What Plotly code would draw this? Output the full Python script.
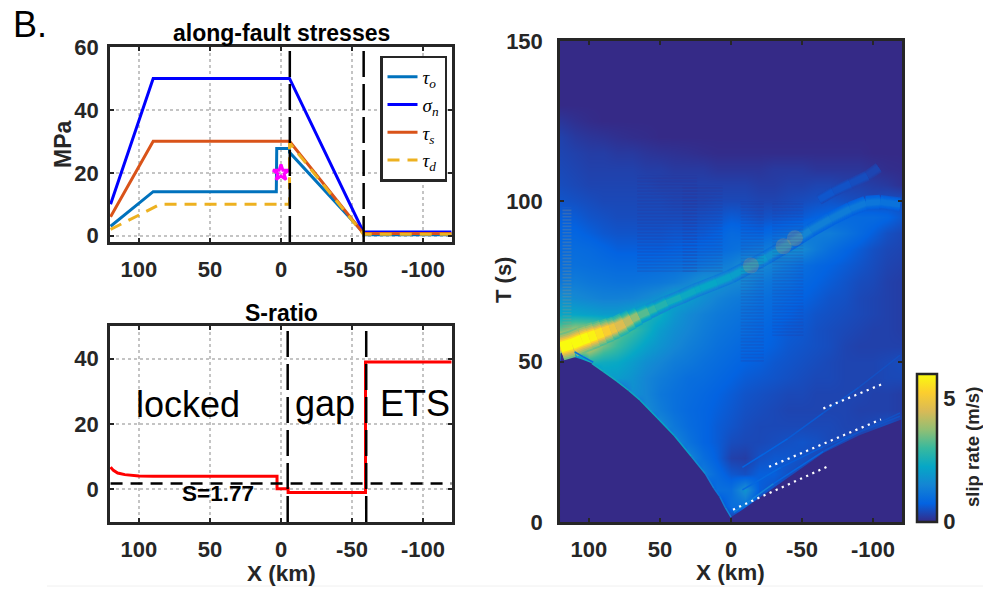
import plotly.graph_objects as go
from plotly.colors import sample_colorscale

W, H = 983, 589
FONT = "Liberation Sans"
INK = "#262626"
PARULA = [[0, "#352a87"], [.125, "#0363e1"], [.25, "#1485d4"], [.375, "#06a7c6"], [.5, "#38b99e"],
          [.625, "#92bf73"], [.75, "#d9ba56"], [.875, "#fcce2e"], [1, "#f9fb0e"]]

x_ticks = [100, 50, 0, -50, -100]
x_ticktext = ["100", "50", "0", "-50", "-100"]

# along-fault stresses
tau_o_x = [120, 90, 3.3, 3, -6, -6, -58, -58.5, -120]
tau_o_y = [3, 14, 14, 27.7, 27.7, 26.5, 1, 0.3, 0.3]
sigma_n_x = [120, 90, -6, -58, -120]
sigma_n_y = [10, 50, 50, 1.2, 1.2]
tau_s_x = [120, 90, -6, -58, -120]
tau_s_y = [6, 30, 30, 0.7, 0.7]
tau_d_x = [120, 85, -6, -6, -58, -120]
tau_d_y = [2, 10, 10, 29.5, 0.5, 0.5]
gap_left_top, gap_right_top = -6.2, -58.2
star_x, star_y = [0], [20]

# S-ratio
s_x = [120, 118, 115, 110, 100, 90, 2.8, 2.8, -5, -5, -59.5, -59.5, -120]
s_y = [6.8, 5.8, 5.0, 4.5, 4.1, 4.0, 4.0, 0.2, 0.2, -1, -1, 39, 39]
s_critical = 1.77
gap_left_bot, gap_right_bot = -4.7, -60

# slip-rate field (coarse reading of the picture)
field_x = [120, 110, 100, 90, 80, 70, 60, 50, 40, 30, 20, 10, 0, -10, -20, -30, -40, -50, -60, -70, -80, -90, -100, -110, -120]
field_t = [0, 5, 10, 15, 20, 25, 30, 35, 40, 45, 50, 55, 60, 65, 70, 75, 80, 85, 90, 95, 100, 105, 110, 115, 120, 125, 130, 135, 140, 145, 150]
Z = [
 [0]*25,
 [0,0,0,0,0,0,0,0,0,0,0,.2,1,1,.3,0,0,0,0,0,0,0,0,0,0],
 [0,0,0,0,0,0,0,0,0,0,.2,1,1,1.8,.7,.5,.2,0,0,0,0,0,0,0,0],
 [0,0,0,0,0,0,0,0,0,.1,1.3,.9,.6,.5,.7,.7,.5,.4,.3,.1,0,0,0,0,0],
 [0,0,0,0,0,0,0,0,0,1.5,1,.7,.3,.25,.5,.6,.6,.5,.4,.35,.25,.1,0,0,0],
 [0,0,0,0,0,0,0,0,1.5,1.1,.8,.65,.45,.4,.4,.45,.5,.55,.5,.4,.4,.35,.25,.1,0],
 [0,0,0,0,0,0,0,1.6,1.2,.95,.8,.65,.55,.45,.4,.4,.4,.4,.4,.4,.35,.35,.4,.5,.4],
 [0,0,0,0,0,0,1.6,1.3,1.05,.9,.8,.7,.6,.5,.45,.4,.35,.35,.35,.35,.35,.3,.3,.3,.25],
 [0,0,0,0,0,1.7,1.5,1.2,1.05,.95,.85,.75,.65,.55,.5,.45,.4,.4,.35,.35,.35,.35,.3,.3,.25],
 [0,0,0,2,2,1.8,1.5,1.3,1.15,1,.95,.85,.75,.65,.6,.55,.5,.45,.4,.4,.35,.35,.35,.4,.4],
 [0,0,2.6,2.4,2.3,2,1.7,1.5,1.3,1.2,1.05,.95,.85,.75,.7,.6,.55,.5,.45,.4,.35,.35,.35,.4,.45],
 [6,5.5,4.5,3.5,3,2.5,2.1,1.8,1.55,1.35,1.2,1.05,.95,.85,.8,.7,.6,.55,.5,.45,.35,.3,.3,.3,.3],
 [3.5,4,4,3.8,3.4,3,2.5,2,1.7,1.5,1.3,1.15,1.05,.95,.85,.75,.65,.6,.5,.45,.4,.35,.3,.3,.25],
 [2.2,2.2,2.1,2,2,2.2,2.6,2.4,1.9,1.6,1.4,1.25,1.15,1.05,.95,.85,.75,.65,.55,.5,.45,.4,.35,.3,.25],
 [1.7,1.6,1.5,1.4,1.4,1.45,1.6,1.8,2.2,2,1.7,1.45,1.3,1.2,1.05,.95,.85,.75,.65,.55,.5,.4,.35,.3,.25],
 [1.2,1.3,1.2,1.15,1.1,1.1,1.15,1.2,1.3,1.5,1.8,1.8,1.6,1.5,1.25,1.1,1,.85,.75,.65,.55,.45,.4,.3,.25],
 [1,1.05,1,.95,.9,.9,.9,.95,1,1.05,1.15,1.25,1.4,1.7,1.6,1.4,1.2,1,.85,.75,.65,.55,.45,.35,.3],
 [.9,.95,.9,.8,.7,.7,.7,.7,.75,.8,.85,.9,1,1.1,1.2,1.35,1.7,1.6,1.25,1,.8,.65,.5,.4,.35],
 [.8,.8,.7,.6,.55,.55,.55,.55,.6,.6,.65,.75,.9,.85,.8,.9,1,1.1,1.3,1.3,1.1,.9,.7,.5,.4],
 [.7,.65,.55,.5,.45,.45,.45,.45,.45,.45,.5,.55,.65,.6,.5,.55,.6,.65,.75,.8,.9,.9,.9,.8,.6],
 [.55,.5,.45,.4,.4,.4,.4,.4,.35,.35,.35,.4,.4,.4,.35,.35,.4,.45,.5,.55,.5,.45,.4,.5,.5],
 [.45,.4,.35,.35,.35,.35,.35,.3,.3,.3,.3,.3,.3,.3,.25,.25,.3,.3,.35,.35,.3,.3,.25,.2,.1],
 [.4,.35,.3,.3,.3,.3,.25,.25,.2,.2,.2,.15,.15,.15,.15,.2,.2,.2,.15,.15,.15,.15,.1,.05,.03],
 [.35,.3,.25,.25,.2,.2,.15,.12,.1,.08,.05,.03,.03,.03,.03,.03,.03,.03,.03,.03,.03,.03,0,0,0],
 [.3,.2,.15,.12,.08,.05,.03,0,0,0,0,0,0,0,0,0,0,0,0,0,0,0,0,0,0],
 [.15,.08,.03,0,0,0,0,0,0,0,0,0,0,0,0,0,0,0,0,0,0,0,0,0,0],
 [0]*25, [0]*25, [0]*25, [0]*25, [0]*25,
]

# rupture fronts
main_x = [120, 112, 105, 100, 95, 90, 85, 81, 75, 70, 65, 58, 53, 45, 35, 25, 21.6, 10, 0, -13.6, -25, -42, -56, -70, -84, -95, -105, -119]
main_t = [54.5, 55.5, 56.8, 57.6, 58.4, 59.2, 60, 60.7, 62, 63.2, 64.3, 65.7, 66.7, 68.4, 70.2, 72.2, 72.8, 74.8, 76.6, 79.8, 82.5, 87, 91, 94.5, 97.6, 99.5, 99.8, 99]
main_v = [6, 6, 6, 6, 5.7, 5.4, 5, 4.8, 4.4, 4, 3.5, 3, 2.8, 2.6, 2.4, 2.3, 2.3, 2.2, 2.1, 2, 1.9, 1.6, 1.4, 1.35, 1.25, 1.2, 1.15, 1.0]
front_x = [98, 90, 80.6, 72, 64, 52, 40, 28, 18, 12, 8, 4, 0]
front_t = [49.5, 47, 44, 41, 38, 32.5, 27, 20.5, 15, 10.5, 8, 4.5, 1.5]
front_v = [2.5, 2.5, 2.4, 2.4, 2.3, 2.3, 2.2, 2, 1.5, 1.2, 1.2, 1.4, 1.6]
notch_x = [110, 104, 97]
notch_t = [53, 51.5, 49.8]
notch_v = [1.1, 1.0, .9]
ray_a_x = [-2, -30, -65, -90, -119]
ray_a_t = [3, 12, 22, 28, 33]
ray_a_v = [1.8, 1.0, .65, .55, .5]
ray_b_x = [-8, -35, -65, -90, -119]
ray_b_t = [10, 17, 23.5, 28, 34]
ray_b_v = [1.0, .75, .6, .5, .5]
ray_c_x = [-8, -40, -65, -90, -119]
ray_c_t = [17, 26, 34, 42, 52]
ray_c_v = [.9, .65, .65, .5, .5]
ray_d_x = [-62, -72, -84, -96, -104]
ray_d_t = [100.5, 103, 105.5, 108, 110.5]
ray_d_v = [.6, .55, .5, .42, .3]
# quiet area below the first arrivals
quiet_x = [120, 119, 105, 98, 90, 80.6, 72, 64, 52, 40, 28, 18, 12, 8, 4, 0, -7, -65, -90, -120, -120, 120]
quiet_t = [52.6, 52.6, 50.7, 49.5, 47, 44, 41, 38, 32.5, 27, 20.5, 15, 10.5, 8, 4.5, 1.5, 3.5, 21.5, 27, 32, 0, 0]
# banded, dithered-looking zones (x, first T, last T)
band_x = [-15, -40, 45, 20]
band_t0 = [50, 58, 78, 78]
band_t1 = [100, 100, 108, 105]
band_px = [23, 31, 60, 40]
speckle_x = [115.5]
speckle_t0 = [60]
speckle_t1 = [98]
blob_x = [-14, -37, -45]
blob_t = [80, 86, 88.5]
# white dotted guides
guide_1_x, guide_1_t = [-1.4, -70], [3.85, 17.7]
guide_2_x, guide_2_t = [-26.8, -105.6], [17.2, 32]
guide_3_x, guide_3_t = [-65, -107.5], [35.4, 43.2]

fig = go.Figure()
fig.add_trace(go.Scatter(x=tau_o_x, y=tau_o_y, mode="lines", name="<i>τ<sub>o</sub></i>",
                         line=dict(color="#0072bd", width=3), xaxis="x", yaxis="y"))
fig.add_trace(go.Scatter(x=sigma_n_x, y=sigma_n_y, mode="lines", name="<i>σ<sub>n</sub></i>",
                         line=dict(color="#0000ff", width=3), xaxis="x", yaxis="y"))
fig.add_trace(go.Scatter(x=tau_s_x, y=tau_s_y, mode="lines", name="<i>τ<sub>s</sub></i>",
                         line=dict(color="#d95319", width=3), xaxis="x", yaxis="y"))
fig.add_trace(go.Scatter(x=tau_d_x, y=tau_d_y, mode="lines", name="<i>τ<sub>d</sub></i>",
                         line=dict(color="#edb120", width=3, dash="12px,8px"), xaxis="x", yaxis="y"))
fig.add_trace(go.Scatter(x=star_x, y=star_y, mode="markers", showlegend=False,
                         marker=dict(symbol="star-open", size=12, color="#ff00ff", line=dict(color="#ff00ff", width=3)),
                         xaxis="x", yaxis="y"))
for gx in (gap_left_top, gap_right_top):
    fig.add_trace(go.Scatter(x=[gx, gx], y=[-2, 60], mode="lines", showlegend=False,
                             line=dict(color="black", width=2.5, dash="26px,7px"), xaxis="x", yaxis="y"))

fig.add_trace(go.Scatter(x=s_x, y=s_y, mode="lines", showlegend=False,
                         line=dict(color="#ff0000", width=3), xaxis="x2", yaxis="y2"))
fig.add_trace(go.Scatter(x=[120, -120], y=[s_critical, s_critical], mode="lines", showlegend=False,
                         line=dict(color="black", width=2.5, dash="12px,8px"), xaxis="x2", yaxis="y2"))
for gx in (gap_left_bot, gap_right_bot):
    fig.add_trace(go.Scatter(x=[gx, gx], y=[-10, 50], mode="lines", showlegend=False,
                             line=dict(color="black", width=2.5, dash="26px,7px"), xaxis="x2", yaxis="y2"))

fig.add_trace(go.Heatmap(x=field_x, y=field_t, z=Z, zmin=0, zmax=6, zsmooth="best", colorscale=PARULA,
                         xaxis="x3", yaxis="y3", hoverinfo="skip",
                         colorbar=dict(x=917/W, xanchor="left", xpad=0, y=(H-521.7)/H, yanchor="bottom", ypad=0,
                                       thicknessmode="pixels", thickness=20, lenmode="pixels", len=148,
                                       outlinecolor=INK, outlinewidth=2.5, tickvals=[0, 5], ticks="",
                                       tickfont=dict(family=FONT, size=22, color=INK, weight="bold"))))
fig.add_trace(go.Scatter(x=quiet_x, y=quiet_t, mode="lines", fill="toself", fillcolor="#352a87", showlegend=False,
                         line=dict(width=0), hoverinfo="skip", xaxis="x3", yaxis="y3"))


def ridge(xs, ts, vs, core, layers):
    for factor, mix in layers:
        for i in range(len(xs) - 1):
            mean = (vs[i] + vs[i + 1]) / 2
            col = sample_colorscale(PARULA, [min(mean * mix, 6) / 6])[0]
            w = (core + 1.4 * max(mean - 2.5, 0)) * factor
            fig.add_trace(go.Scatter(x=xs[i:i + 2], y=ts[i:i + 2], mode="lines", showlegend=False, hoverinfo="skip",
                                     line=dict(color=col, width=w), xaxis="x3", yaxis="y3"))


ridge(main_x, main_t, main_v, 5.5,
      [(2.6, .58), (2.25, .65), (1.9, .72), (1.6, .8), (1.3, .9), (1.0, 1)])
ridge(ray_d_x, ray_d_t, ray_d_v, 7, [(1.5, .7), (1.2, .85), (.9, 1)])
ridge(front_x, front_t, front_v, 1.5, [(1, 1)])
ridge(notch_x, notch_t, notch_v, 1.6, [(1, 1)])
ridge(ray_a_x, ray_a_t, ray_a_v, 1.5, [(1, 1)])
ridge(ray_b_x, ray_b_t, ray_b_v, 1.5, [(1, 1)])
ridge(ray_c_x, ray_c_t, ray_c_v, 1.5, [(1, 1)])

fig.add_trace(go.Scatter(x=blob_x, y=blob_t, mode="markers", showlegend=False, hoverinfo="skip",
                         marker=dict(size=16, color="rgba(165,160,120,0.32)", line=dict(width=0)),
                         xaxis="x3", yaxis="y3"))
for bx, b0, b1, bw in zip(band_x, band_t0, band_t1, band_px):
    fig.add_trace(go.Scatter(x=[bx, bx], y=[b0, b1], mode="lines", showlegend=False, hoverinfo="skip",
                             line=dict(color="rgba(53,42,135,0.16)", width=bw, dash="1.6px,1.6px"),
                             xaxis="x3", yaxis="y3"))
for bx, b0, b1 in zip(speckle_x, speckle_t0, speckle_t1):
    fig.add_trace(go.Scatter(x=[bx, bx], y=[b0, b1], mode="lines", showlegend=False, hoverinfo="skip",
                             line=dict(color="rgba(170,150,110,0.25)", width=9, dash="1.6px,1.6px"),
                             xaxis="x3", yaxis="y3"))
for gx, gt in ((guide_1_x, guide_1_t), (guide_2_x, guide_2_t), (guide_3_x, guide_3_t)):
    fig.add_trace(go.Scatter(x=gx, y=gt, mode="lines", showlegend=False, hoverinfo="skip",
                             line=dict(color="white", width=2.2, dash="2.2px,4.5px"), xaxis="x3", yaxis="y3"))


def dx(a, b):
    return [a / W, b / W]


def dy(top, bot):
    return [1 - bot / H, 1 - top / H]


def xaxis(domain, anchor, grid=True):
    return dict(domain=domain, anchor=anchor, range=[120.4, -120.4], tickvals=x_ticks, ticktext=x_ticktext,
                showgrid=grid, gridcolor="#c4c4c4", griddash="dot", gridwidth=1.5, zeroline=False,
                showline=True, linecolor=INK, linewidth=2.5, mirror="allticks", ticks="inside", ticklen=4, tickwidth=2,
                tickcolor=INK, tickfont=dict(family=FONT, size=22, color=INK, weight="bold"), ticklabelstandoff=6)


def yaxis(domain, anchor, rng, vals, grid=True, off=4):
    return dict(domain=domain, anchor=anchor, range=rng, tickvals=vals,
                showgrid=grid, gridcolor="#c4c4c4", griddash="dot", gridwidth=1.5, zeroline=False,
                showline=True, linecolor=INK, linewidth=2.5, mirror="allticks", ticks="inside", ticklen=4, tickwidth=2,
                tickcolor=INK, tickfont=dict(family=FONT, size=22, color=INK, weight="bold"), ticklabelstandoff=off)


def label(text, px, py, size, color="black", angle=0, anchor="center"):
    return dict(text=text, xref="paper", yref="paper", x=px/W, y=1-py/H, xanchor=anchor, yanchor="middle",
                showarrow=False, textangle=angle, font=dict(family=FONT, size=size, color=color))


fig.update_layout(
    width=W, height=H, margin=dict(l=0, r=0, t=0, b=0, autoexpand=False), paper_bgcolor="white", plot_bgcolor="white",
    xaxis=xaxis(dx(110, 452), "y"),
    yaxis=yaxis(dy(47, 242), "x", [-2, 60], [0, 20, 40, 60]),
    xaxis2=xaxis(dx(110, 452), "y2"),
    yaxis2=yaxis(dy(326, 522), "x2", [-10, 50], [0, 20, 40]),
    xaxis3=xaxis(dx(560, 902), "y3", grid=False),
    yaxis3=yaxis(dy(41, 522), "x3", [0, 150], [0, 50, 100, 150], grid=False, off=10),
    legend=dict(x=380/W, xanchor="left", y=1-55.5/H, yanchor="top", bgcolor="white", bordercolor=INK, borderwidth=2.5,
                font=dict(family="Liberation Serif", size=19, color="black"), itemwidth=30, tracegroupgap=0),
    showlegend=True,
    shapes=[dict(type="line", xref="paper", yref="paper", x0=47/W, x1=1, y0=1-586/H, y1=1-586/H,
                 line=dict(color="#f0f0f0", width=1))],
    annotations=[
        label("B.", 11, 25, 36, anchor="left"),
        label("<b>along-fault stresses</b>", 281, 33, 23),
        label("<b>S-ratio</b>", 281, 313, 23),
        label("locked", 188, 404, 36),
        label("gap", 325, 403, 36),
        label("ETS", 415, 403, 36),
        label("<b>S=1.77</b>", 218, 493, 22.5),
        label("<b>MPa</b>", 63, 144, 23, INK, -90),
        label("<b>X (km)</b>", 281, 573, 22.5, INK),
        label("<b>X (km)</b>", 730, 572, 22.5, INK),
        label("<b>T (s)</b>", 503, 280, 22, INK, -90),
        label("<b>slip rate (m/s)</b>", 973, 447, 18.5, INK, -90),
    ],
)
fig.write_html("out.html", post_script="document.body.style.margin='0';", config={"displayModeBar": False})
